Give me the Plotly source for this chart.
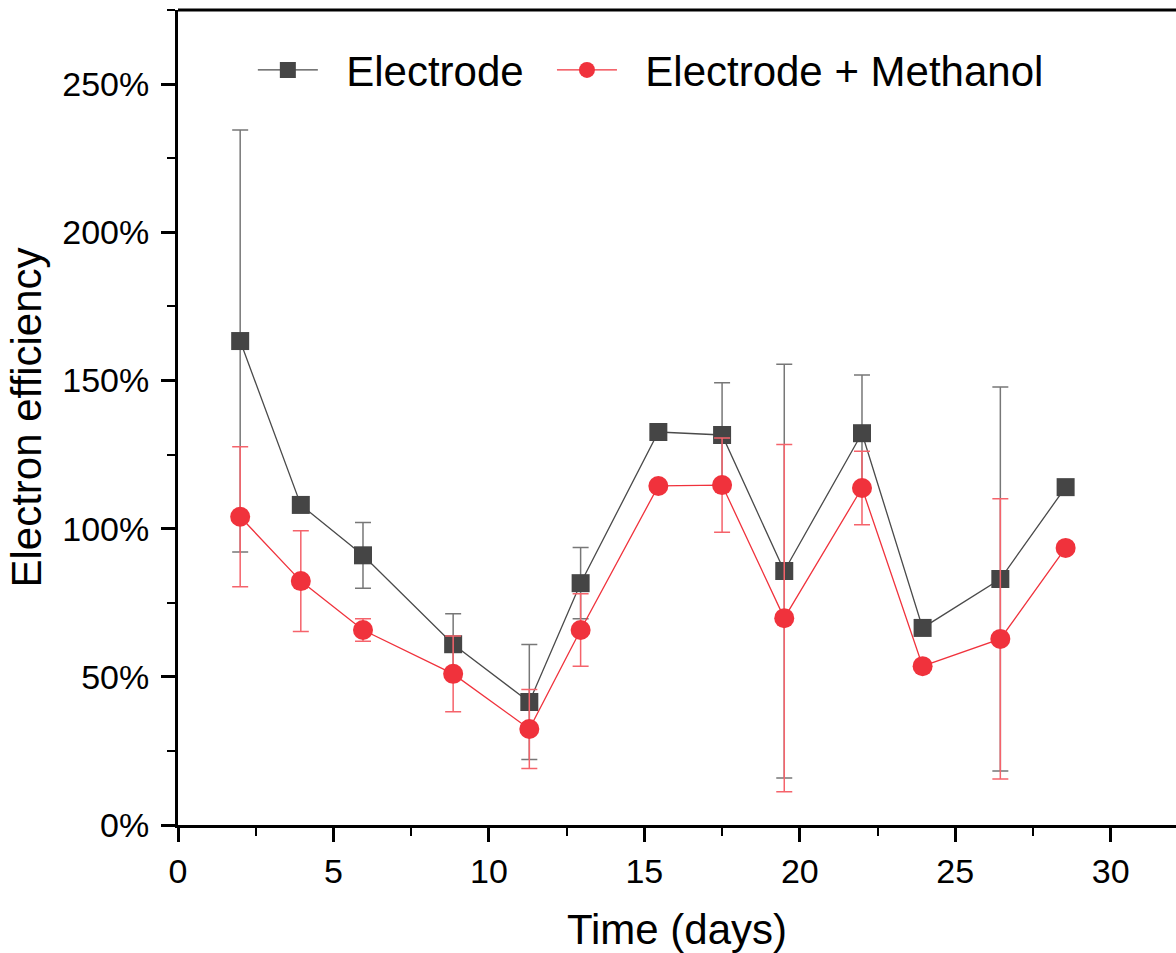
import plotly.graph_objects as go

days = [2.0, 3.95, 5.95, 8.85, 11.3, 12.95, 15.45, 17.5, 19.5, 22.0, 23.95, 26.45, 28.55]

electrode = [163.3, 108.0, 91.0, 61.0, 41.5, 81.6, 132.6, 131.6, 85.7, 132.2, 66.5, 83.0, 114.0]
electrode_err = [71.2, None, 11.1, 10.3, 19.4, 12.0, None, 17.6, 69.8, 19.6, None, 64.8, None]

methanol = [104.0, 82.3, 65.8, 51.0, 32.4, 65.8, 114.4, 114.7, 69.8, 113.7, 53.6, 62.8, 93.5]
methanol_err = [23.6, 17.0, 3.8, 12.8, 13.3, 12.2, None, 15.9, 58.6, 12.4, None, 47.3, None]

series_names = ["Electrode", "Electrode + Methanol"]
x_ticks = [0, 5, 10, 15, 20, 25, 30]
y_ticks = [0, 50, 100, 150, 200, 250]

FONT = "Liberation Sans, Arial, sans-serif"
PAD = "\u00a0\u00a0"

fig = go.Figure()
fig.add_trace(go.Scatter(
    x=days, y=electrode, name=PAD + series_names[0] + PAD, mode="lines+markers",
    line=dict(color="#4a4a4a", width=1.3),
    marker=dict(symbol="square", size=18, color="#454545"),
    error_y=dict(type="data", array=electrode_err, visible=True,
                 color="#777777", thickness=1.5, width=8),
))
fig.add_trace(go.Scatter(
    x=days, y=methanol, name=PAD + series_names[1], mode="lines+markers",
    line=dict(color="#f0323c", width=1.3),
    marker=dict(symbol="circle", size=20, color="#f0323c"),
    error_y=dict(type="data", array=methanol_err, visible=True,
                 color="#f5636b", thickness=1.5, width=8),
))

axis_common = dict(
    showline=True, linecolor="black", linewidth=3,
    ticks="outside", ticklen=14, tickwidth=3, tickcolor="black",
    showgrid=False, zeroline=False,
    tickfont=dict(family=FONT, size=34, color="black"),
)

fig.update_xaxes(
    range=[0, 32.1], tickvals=x_ticks, ticktext=[str(v) for v in x_ticks],
    minor=dict(dtick=2.5, ticklen=8, tickwidth=2, tickcolor="black", ticks="outside"),
    title=dict(text="Time (days)", font=dict(family=FONT, size=42, color="black"), standoff=30),
    **axis_common,
)
fig.update_yaxes(
    range=[0, 275], tickvals=y_ticks, ticktext=[f"{v}%" for v in y_ticks],
    minor=dict(dtick=25, ticklen=8, tickwidth=2, tickcolor="black", ticks="outside"),
    ticklabelstandoff=5,
    title=dict(text="Electron efficiency", font=dict(family=FONT, size=42, color="black"), standoff=8),
    **axis_common,
)

fig.add_shape(type="line", xref="paper", yref="paper", x0=0, x1=1, y0=1, y1=1,
              line=dict(color="black", width=3))

fig.update_layout(
    width=1176, height=953,
    margin=dict(l=178, r=0, t=10, b=128),
    plot_bgcolor="white", paper_bgcolor="white",
    font=dict(family=FONT, color="black"),
    legend=dict(orientation="h", x=0.075, y=0.968, xanchor="left", yanchor="top",
                font=dict(family=FONT, size=42, color="black"),
                bgcolor="rgba(0,0,0,0)", itemwidth=60, tracegroupgap=0),
    showlegend=True,
)

fig.write_html("out.html")
